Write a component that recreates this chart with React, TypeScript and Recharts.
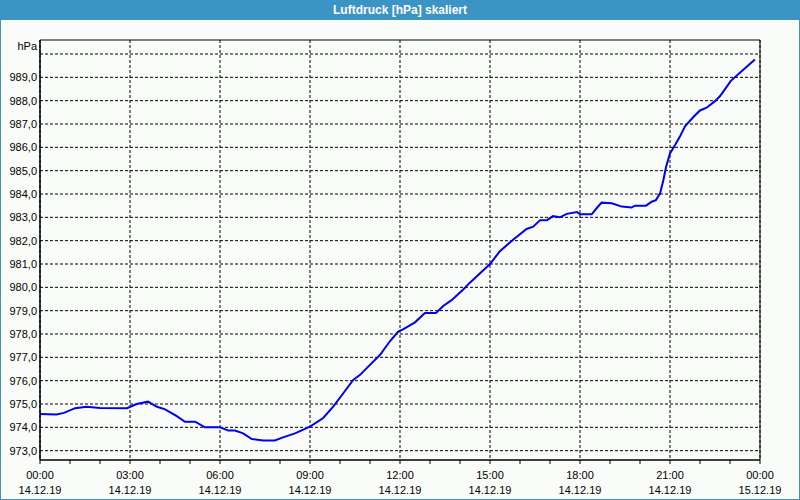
import React from 'react';
import { LineChart, Line, XAxis, YAxis, CartesianGrid, ReferenceArea } from 'recharts';

// Stunden seit 14.12.19 00:00
const hours = [
  0, 0.55, 0.8, 1.17, 1.55, 2.0, 2.9, 3.22, 3.6, 3.9, 4.17, 4.56, 4.83, 5.17, 5.5, 6.0,
  6.28, 6.5, 6.77, 7.06, 7.44, 7.83, 8.1, 8.5, 9.0, 9.44, 9.78, 10.11, 10.44, 10.67, 10.94,
  11.33, 11.67, 11.94, 12.1, 12.5, 12.83, 13.2, 13.44, 13.72, 14.1, 14.33, 14.67, 15.0,
  15.33, 15.78, 16.22, 16.44, 16.67, 16.9, 17.1, 17.33, 17.56, 17.9, 18.0, 18.39, 18.56,
  18.72, 19.06, 19.39, 19.72, 19.83, 20.2, 20.39, 20.53, 20.67, 20.78, 20.87, 21.0, 21.17,
  21.33, 21.5, 21.78, 22.0, 22.22, 22.5, 22.67, 22.87, 23.02, 23.33, 23.83
];

const pressure = [
  974.57, 974.55, 974.62, 974.82, 974.88, 974.83, 974.82, 975.0, 975.1, 974.88, 974.77, 974.48,
  974.24, 974.24, 974.0, 974.0, 973.86, 973.86, 973.74, 973.5, 973.44, 973.44, 973.57, 973.74,
  974.03, 974.4, 974.9, 975.46, 976.03, 976.25, 976.6, 977.1, 977.7, 978.1, 978.2, 978.5,
  978.9, 978.9, 979.2, 979.45, 979.9, 980.2, 980.6, 981.0, 981.55, 982.05, 982.5, 982.6,
  982.88, 982.88, 983.05, 983.0, 983.15, 983.23, 983.13, 983.13, 983.4, 983.63, 983.6,
  983.46, 983.42, 983.5, 983.5, 983.67, 983.74, 984.03, 984.6, 985.17, 985.74, 986.1,
  986.46, 986.9, 987.3, 987.58, 987.7, 987.98, 988.2, 988.56, 988.84, 989.2, 989.76
];

const hourTicks = Array.from({ length: 25 }, (_, i) => i);
const majorHours = [0, 3, 6, 9, 12, 15, 18, 21, 24];
const timeLabels = ['00:00', '03:00', '06:00', '09:00', '12:00', '15:00', '18:00', '21:00', '00:00'];
const dateLabels = ['14.12.19', '14.12.19', '14.12.19', '14.12.19', '14.12.19', '14.12.19', '14.12.19', '14.12.19', '15.12.19'];
const yTicks = [973, 974, 975, 976, 977, 978, 979, 980, 981, 982, 983, 984, 985, 986, 987, 988, 989, 990];
const yDomain = [972.6, 990.6];

const data = hours.map((h, i) => ({ h, p: pressure[i] }));

const FONT = '"Liberation Sans", Arial, sans-serif';
const BLUE = '#3c94c4';

const TimeTick = ({ x, y, payload }: any) => {
  const idx = majorHours.indexOf(payload.value);
  if (idx < 0) return null;
  return (
    <text x={x} y={y} textAnchor="middle" fontFamily={FONT} fontSize={11} fill="#000">
      <tspan x={x} dy={13}>{timeLabels[idx]}</tspan>
      <tspan x={x} dy={15}>{dateLabels[idx]}</tspan>
    </text>
  );
};

const PressureTick = ({ x, y, payload }: any) => {
  const v = payload.value;
  const label = v === 990 ? 'hPa' : v.toFixed(1).replace('.', ',');
  return (
    <text x={x} y={v === 990 ? y - 8 : y} dy={4} textAnchor="end" fontFamily={FONT} fontSize={11} fill="#000">
      {label}
    </text>
  );
};

export default function App() {
  return (
    <div
      style={{
        position: 'absolute',
        left: 0,
        top: 0,
        width: 800,
        height: 500,
        background: '#fafcfa',
        boxShadow: `inset 0 0 0 1px ${BLUE}`,
        fontFamily: FONT
      }}
    >
      <div
        style={{
          height: 20,
          background: BLUE,
          color: '#fff',
          fontWeight: 'bold',
          fontSize: 12,
          lineHeight: '20px',
          textAlign: 'center'
        }}
      >
        Luftdruck [hPa] skaliert
      </div>
      <div style={{ position: 'absolute', left: 0, top: 20 }}>
        <LineChart width={800} height={480} data={data} margin={{ top: 20, right: 40, bottom: 0, left: 0 }}>
          <CartesianGrid
            stroke="#000"
            strokeDasharray="3 2"
            verticalValues={majorHours}
            horizontalValues={yTicks}
          />
          <XAxis
            dataKey="h"
            type="number"
            domain={[0, 24]}
            ticks={hourTicks}
            interval={0}
            height={40}
            tickSize={4}
            tickMargin={2}
            stroke="#000"
            tick={<TimeTick />}
          />
          <YAxis
            type="number"
            domain={yDomain}
            ticks={yTicks}
            interval={0}
            width={40}
            tickSize={0}
            tickMargin={3}
            tickLine={false}
            stroke="#000"
            allowDataOverflow
            tick={<PressureTick />}
          />
          <ReferenceArea x1={0} x2={24} y1={yDomain[0]} y2={yDomain[1]} stroke="#000" fill="none" fillOpacity={0} />
          <Line
            type="linear"
            dataKey="p"
            stroke="#0000ee"
            strokeWidth={2}
            dot={false}
            isAnimationActive={false}
          />
        </LineChart>
      </div>
    </div>
  );
}
